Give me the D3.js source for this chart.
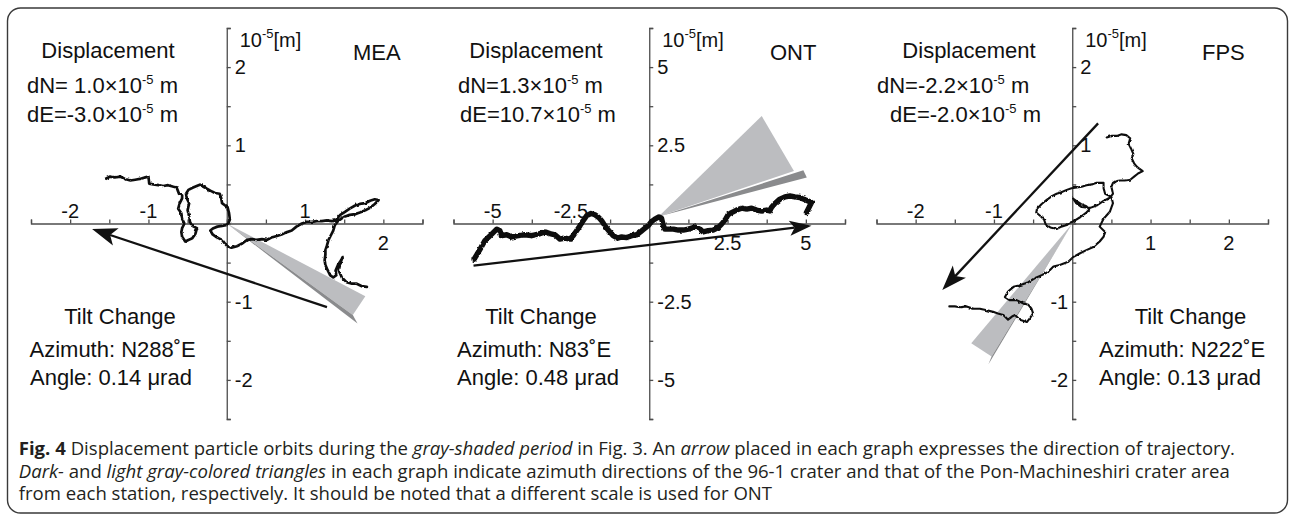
<!DOCTYPE html>
<html>
<head>
<meta charset="utf-8">
<script src="https://cdn.jsdelivr.net/npm/d3@7"></script>
<style>
  html, body { margin: 0; padding: 0; background: #fff; }
  svg { display: block; }
</style>
</head>
<body>
<svg id="fig" width="1290" height="518"></svg>
<script>
// Particle orbits, [E, N] in 10^-5 m
const meaOrbit = [
  [-1.55,0.57],[-1.49,0.60],[-1.43,0.59],[-1.36,0.60],[-1.30,0.57],[-1.23,0.55],[-1.17,0.56],[-1.11,0.57],[-1.04,0.59],[-1.00,0.60],
  [-0.99,0.51],[-0.94,0.50],[-0.87,0.49],[-0.81,0.48],[-0.75,0.49],[-0.68,0.47],[-0.64,0.46],[-0.61,0.38],[-0.57,0.36],
  [-0.57,0.32],[-0.60,0.26],[-0.62,0.19],[-0.58,0.13],[-0.57,0.06],[-0.54,0.00],[-0.57,-0.06],[-0.58,-0.11],[-0.57,-0.17],[-0.53,-0.23],
  [-0.49,-0.21],[-0.44,-0.19],[-0.40,-0.13],[-0.38,-0.06],[-0.44,-0.03],[-0.47,0.02],[-0.48,0.09],[-0.50,0.17],[-0.48,0.26],[-0.51,0.32],
  [-0.52,0.38],[-0.49,0.43],[-0.43,0.46],[-0.36,0.49],[-0.33,0.50],[-0.30,0.47],[-0.26,0.45],[-0.21,0.42],[-0.15,0.39],[-0.09,0.38],
  [-0.07,0.32],[-0.06,0.26],[-0.02,0.23],[0.01,0.21],[0.03,0.13],[0.04,0.05],[0.02,0.00],
  [-0.01,-0.02],[-0.06,-0.03],[-0.12,-0.04],[-0.17,-0.06],[-0.21,-0.09],[-0.18,-0.14],[-0.14,-0.17],[-0.10,-0.19],[-0.06,-0.21],
  [-0.02,-0.26],[0.01,-0.29],[0.06,-0.31],[0.13,-0.29],[0.19,-0.26],[0.26,-0.21],[0.32,-0.20],[0.38,-0.21],[0.45,-0.20],[0.51,-0.21],
  [0.57,-0.18],[0.64,-0.16],[0.70,-0.14],[0.77,-0.11],[0.83,-0.09],[0.89,-0.04],[0.96,0.00],[1.02,0.02],[1.09,0.02],[1.15,0.03],
  [1.21,0.03],[1.28,0.04],[1.34,0.03],[1.39,0.04],
  [1.45,0.11],[1.51,0.15],[1.57,0.19],[1.64,0.23],[1.70,0.25],[1.77,0.26],[1.83,0.29],[1.89,0.31],[1.94,0.30],[1.89,0.25],
  [1.83,0.20],[1.77,0.17],[1.70,0.14],[1.64,0.12],[1.57,0.11],[1.51,0.09],[1.46,0.06],[1.42,0.03],
  [1.38,-0.02],[1.36,-0.09],[1.33,-0.15],[1.30,-0.21],[1.28,-0.28],[1.26,-0.34],[1.26,-0.40],[1.25,-0.47],[1.26,-0.53],[1.29,-0.60],
  [1.32,-0.66],[1.36,-0.69],[1.40,-0.66],[1.39,-0.60],[1.42,-0.53],[1.46,-0.47],[1.48,-0.43],[1.45,-0.51],[1.43,-0.60],[1.47,-0.69],
  [1.53,-0.75],[1.60,-0.77],[1.66,-0.77],[1.72,-0.80],[1.79,-0.81]
];
const ontOrbit = [
  [-5.59,-1.14],[-5.40,-0.82],[-5.25,-0.55],[-5.03,-0.34],[-4.87,-0.18],[-4.77,-0.23],[-4.71,-0.39],[-4.55,-0.36],[-4.39,-0.43],
  [-4.18,-0.39],[-3.97,-0.36],[-3.76,-0.39],[-3.54,-0.34],[-3.33,-0.27],[-3.17,-0.32],[-3.01,-0.36],[-2.85,-0.50],[-2.69,-0.47],
  [-2.53,-0.50],[-2.43,-0.39],[-2.32,-0.23],[-2.21,-0.07],[-2.11,0.09],[-2.00,0.25],[-1.86,0.32],[-1.73,0.28],[-1.61,0.19],
  [-1.52,0.09],[-1.42,-0.07],[-1.29,-0.23],[-1.15,-0.39],[-1.01,-0.47],[-0.88,-0.43],[-0.72,-0.45],[-0.56,-0.39],[-0.40,-0.36],
  [-0.27,-0.26],[-0.14,-0.15],[-0.03,-0.07],[0.07,0.06],[0.18,0.14],[0.31,0.21],[0.39,0.17],[0.45,-0.07],[0.50,-0.18],
  [0.63,-0.18],[0.77,-0.18],[0.93,-0.21],[1.09,-0.21],[1.25,-0.18],[1.46,-0.11],[1.62,-0.18],[1.72,-0.27],[1.88,-0.23],
  [2.04,-0.21],[2.20,-0.13],[2.31,-0.02],[2.42,0.11],[2.52,0.28],[2.63,0.35],[2.79,0.43],[2.95,0.49],[3.11,0.46],[3.27,0.49],
  [3.43,0.43],[3.59,0.40],[3.75,0.43],[3.85,0.40],[3.90,0.51],[4.01,0.64],[4.17,0.78],[4.33,0.85],[4.49,0.88],[4.65,0.85],
  [4.81,0.83],[4.92,0.78],[5.07,0.72],[5.18,0.67],[5.10,0.51],[5.02,0.35]
];
const fpsOrbit = [
  [-1.57,-1.06],[-1.50,-1.06],[-1.43,-1.07],[-1.35,-1.06],[-1.26,-1.09],[-1.18,-1.09],[-1.09,-1.11],[-1.01,-1.13],[-0.95,-1.15],
  [-0.88,-1.17],[-0.82,-1.23],[-0.77,-1.19],[-0.73,-1.17],[-0.67,-1.23],[-0.58,-1.26],[-0.54,-1.21],[-0.50,-1.15],[-0.52,-1.09],
  [-0.56,-1.04],[-0.63,-1.02],[-0.71,-0.98],[-0.80,-0.98],[-0.86,-0.94],[-0.82,-0.87],[-0.75,-0.81],[-0.67,-0.79],[-0.56,-0.75],
  [-0.48,-0.70],[-0.39,-0.66],[-0.31,-0.62],[-0.24,-0.55],[-0.16,-0.53],[-0.05,-0.49],[0.01,-0.43],[0.10,-0.38],[0.18,-0.34],
  [0.27,-0.30],[0.35,-0.23],[0.40,-0.17],[0.42,-0.11],[0.35,-0.04],
  [0.40,0.06],[0.48,0.15],[0.52,0.26],[0.50,0.34],[0.46,0.36],[0.42,0.38],[0.40,0.45],[0.40,0.52],
  [0.31,0.52],[0.25,0.50],[0.18,0.49],[0.12,0.47],[0.06,0.46],[-0.01,0.45],[-0.07,0.43],[-0.14,0.40],[-0.20,0.38],[-0.26,0.35],
  [-0.33,0.30],[-0.39,0.25],[-0.45,0.19],[-0.46,0.14],[-0.40,0.09],[-0.36,0.05],[-0.34,-0.01],[-0.28,-0.05],[-0.20,-0.07],
  [-0.14,-0.04],[-0.07,-0.02],[-0.03,0.01],[0.02,0.03],[0.10,0.08],[0.18,0.14],[0.22,0.18],[0.18,0.22],[0.11,0.25],[0.05,0.29],
  [0.01,0.32],[0.05,0.26],[0.12,0.21],[0.23,0.20],[0.31,0.23],[0.40,0.29],[0.48,0.33],[0.52,0.38],[0.50,0.47],[0.52,0.52],
  [0.55,0.54],[0.61,0.55],[0.67,0.55],[0.74,0.56],[0.79,0.60],[0.84,0.64],[0.90,0.67],[0.83,0.72],[0.79,0.77],[0.76,0.83],
  [0.78,0.89],[0.75,0.96],[0.72,1.02],[0.74,1.09],[0.69,1.13],[0.63,1.14],[0.57,1.12],[0.50,1.12],[0.44,1.10]
];

// Direction-of-trajectory arrows: [start, tip]
const meaArrow = [[1.28, -1.07], [-1.72, -0.07]];
const ontArrow = [[-5.61, -1.35], [5.18, -0.07]];
const fpsArrow = [[0.33, 1.28], [-1.66, -0.85]];

// Azimuth wedges: light = Pon-Machineshiri crater area, dark = 96-1 crater
const meaLight = [[0, 0], [1.77, -0.93], [1.61, -1.17]];
const meaDark  = [[0, 0], [1.61, -1.17], [1.67, -1.28]];
const ontLight = [[0.30, 0.22], [3.59, 3.44], [4.62, 1.68]];
const ontDark  = [[0.30, 0.22], [4.92, 1.70], [5.03, 1.47]];
const fpsLight = [[0, 0], [-1.29, -1.53], [-1.03, -1.70]];
const fpsDark  = [[0, 0], [-1.03, -1.70], [-1.07, -1.80]];

// Axis ticks and labels
const ticksSmall = [-2.5, -2, -1.5, -1, -0.5, 0, 0.5, 1, 1.5, 2, 2.5];
const ticksOnt = [-6.25, -5, -3.75, -2.5, -1.25, 0, 1.25, 2.5, 3.75, 5, 6.25];
const labelsSmall = [-2, -1, 1, 2];
const labelsOnt = [-5, -2.5, 2.5, 5];

// Station annotations
const stations = ["MEA", "ONT", "FPS"];
const dispN = ["dN= 1.0×10", "dN=1.3×10", "dN=-2.2×10"];
const dispE = ["dE=-3.0×10", "dE=10.7×10", "dE=-2.0×10"];
const azimuths = ["Azimuth: N288˚E", "Azimuth: N83˚E", "Azimuth: N222˚E"];
const angles = ["Angle: 0.14 μrad", "Angle: 0.48 μrad", "Angle: 0.13 μrad"];

const FONT = "'Liberation Sans', Arial, Helvetica, sans-serif";
const INK = "#111";
const AXIS = "#4d4d4d";

const svg = d3.select("#fig");

// slight roughness for the recorded orbit traces
const defs = svg.append("defs");
const rough = defs.append("filter").attr("id", "rough")
  .attr("filterUnits", "userSpaceOnUse")
  .attr("x", 0).attr("y", 0).attr("width", 1290).attr("height", 518);
rough.append("feTurbulence").attr("type", "fractalNoise")
  .attr("baseFrequency", 0.28).attr("numOctaves", 2).attr("seed", 7).attr("result", "n");
rough.append("feDisplacementMap").attr("in", "SourceGraphic").attr("in2", "n")
  .attr("scale", 2.6).attr("xChannelSelector", "R").attr("yChannelSelector", "G");

// figure frame
svg.append("rect")
  .attr("x", 7.5).attr("y", 8).attr("width", 1280).attr("height", 505)
  .attr("rx", 13).attr("ry", 13)
  .attr("fill", "none").attr("stroke", "#3a3a3a").attr("stroke-width", 1.4);

const panels = [
  { xr: [31, 422.5], lim: 2.5, ticks: ticksSmall, labels: labelsSmall, below: [2], yLeft: [],
    orbit: meaOrbit, lw: 2.7, arrow: meaArrow, head: [25, 9, 6], light: meaLight, dark: meaDark,
    title: 353, disp: 108, dn: 27, de: 27, tilt: 120, az: 29.5, an: 30 },
  { xr: [453.5, 845], lim: 6.25, ticks: ticksOnt, labels: labelsOnt, below: [2.5, 5], yLeft: [],
    orbit: ontOrbit, lw: 5.4, arrow: ontArrow, head: [22, 7.5, 5], light: ontLight, dark: ontDark,
    title: 770, disp: 536, dn: 458, de: 460, tilt: 541, az: 457, an: 457 },
  { xr: [876.5, 1268], lim: 2.5, ticks: ticksSmall, labels: labelsSmall, below: [1, 2], yLeft: [-1, -2],
    orbit: fpsOrbit, lw: 2.1, arrow: fpsArrow, head: [25, 9, 6], light: fpsLight, dark: fpsDark,
    title: 1202, disp: 969, dn: 877, de: 890, tilt: 1190.5, az: 1099, an: 1099 }
];

function addText(g, x, y, parts, anchor, size) {
  const t = g.append("text")
    .attr("x", x).attr("y", y)
    .attr("text-anchor", anchor || "start")
    .attr("font-family", FONT).attr("font-size", size || 22)
    .attr("fill", INK);
  parts.forEach(p => {
    if (typeof p === "string") {
      t.append("tspan").text(p);
    } else {
      // superscript exponent
      t.append("tspan").attr("dy", -9).attr("font-size", 13).text(p.sup);
      t.append("tspan").attr("dy", 9).text(p.after);
    }
  });
  return t;
}

panels.forEach((p, i) => {
  const x = d3.scaleLinear().domain([-p.lim, p.lim]).range(p.xr);
  const y = d3.scaleLinear().domain([-p.lim, p.lim]).range([419, 28]);
  const g = svg.append("g");
  const x0 = x(0), y0 = y(0);
  const pt = d => [x(d[0]), y(d[1])];

  // axes
  const ax = g.append("g").attr("transform", `translate(0,${y0})`)
    .call(d3.axisTop(x).tickValues(p.ticks).tickSize(4).tickSizeOuter(4).tickFormat(""));
  const ay = g.append("g").attr("transform", `translate(${x0},0)`)
    .call(d3.axisRight(y).tickValues(p.ticks).tickSize(4).tickSizeOuter(4).tickFormat(""));
  [ax, ay].forEach(a => {
    a.select(".domain").attr("stroke", AXIS).attr("stroke-width", 1.3);
    a.selectAll(".tick line").attr("stroke", AXIS).attr("stroke-width", 1.3);
  });

  // tick labels
  p.labels.forEach(v => {
    const isBelow = p.below.includes(v);
    g.append("text")
      .attr("x", x(v)).attr("y", isBelow ? y0 + 26 : y0 - 6)
      .attr("text-anchor", "middle")
      .attr("font-family", FONT).attr("font-size", 20).attr("fill", INK)
      .text(v);
    const onLeft = p.yLeft.includes(v);
    g.append("text")
      .attr("x", onLeft ? x0 - 4 : x0 + 8).attr("y", y(v) + 7)
      .attr("text-anchor", onLeft ? "end" : "start")
      .attr("font-family", FONT).attr("font-size", 20).attr("fill", INK)
      .text(v);
  });

  // unit label on the N axis
  addText(g, x0 + 13, 47, ["10", { sup: "-5", after: "[m]" }], "start", 20);

  // azimuth wedges
  const poly = pts => "M" + pts.map(pt).join("L") + "Z";
  g.append("path").attr("d", poly(p.light)).attr("fill", "#bcbdc0");
  g.append("path").attr("d", poly(p.dark)).attr("fill", "#8a8b8d");

  // orbit
  g.append("path").datum(p.orbit)
    .attr("d", d3.line().x(d => x(d[0])).y(d => y(d[1])))
    .attr("fill", "none").attr("stroke", INK)
    .attr("stroke-width", p.lw).attr("stroke-linejoin", "round").attr("stroke-linecap", "round")
    .attr("filter", "url(#rough)");

  // trajectory arrow
  const s = pt(p.arrow[0]), t = pt(p.arrow[1]);
  const ang = Math.atan2(t[1] - s[1], t[0] - s[0]);
  const ux = Math.cos(ang), uy = Math.sin(ang);
  const [L, W, N] = p.head;
  const back = [t[0] - ux * L, t[1] - uy * L];
  const b1 = [back[0] - uy * W, back[1] + ux * W];
  const b2 = [back[0] + uy * W, back[1] - ux * W];
  const notch = [t[0] - ux * (L - N), t[1] - uy * (L - N)];
  g.append("line")
    .attr("x1", s[0]).attr("y1", s[1]).attr("x2", notch[0]).attr("y2", notch[1])
    .attr("stroke", INK).attr("stroke-width", 2.3);
  g.append("path").attr("d", "M" + [t, b1, notch, b2].join("L") + "Z").attr("fill", INK);

  // annotations
  addText(g, p.title, 60, [stations[i]], "start", 22);
  addText(g, p.disp, 58, ["Displacement"], "middle", 22);
  addText(g, p.dn, 92.5, [dispN[i], { sup: "-5", after: " m" }], "start", 22);
  addText(g, p.de, 122, [dispE[i], { sup: "-5", after: " m" }], "start", 22);
  addText(g, p.tilt, 324, ["Tilt Change"], "middle", 22);
  addText(g, p.az, 356.5, [azimuths[i]], "start", 22);
  addText(g, p.an, 384.5, [angles[i]], "start", 22);
});

// caption
const captionLines = [
  [["Fig. 4", "b"], [" Displacement particle orbits during the "], ["gray-shaded period", "i"], [" in Fig. 3. An "], ["arrow", "i"], [" placed in each graph expresses the direction of trajectory."]],
  [["Dark-", "i"], [" and "], ["light gray-colored triangles", "i"], [" in each graph indicate azimuth directions of the 96-1 crater and that of the Pon-Machineshiri crater area"]],
  [["from each station, respectively. It should be noted that a different scale is used for ONT"]]
];
const captionBase = [455, 477.5, 499.5];
const capNodes = captionLines.map((line, k) => {
  const t = svg.append("text")
    .attr("x", 0).attr("y", 0)
    .attr("font-family", "'Open Sans', 'Noto Sans', sans-serif")
    .attr("font-size", 17.5).attr("fill", "#231f20")
    .attr("xml:space", "preserve");
  line.forEach(([txt, style]) => {
    const ts = t.append("tspan").text(txt);
    if (style === "b") ts.attr("font-weight", "bold");
    if (style === "i") ts.attr("font-style", "italic");
  });
  return t;
});
// condense the caption so its last line ends where the layout expects
const lastW = capNodes[2].node().getComputedTextLength();
const sx = 754 / lastW;
capNodes.forEach((t, k) => t.attr("transform", `translate(18.75,${captionBase[k]}) scale(${sx},1)`));
</script>
</body>
</html>
